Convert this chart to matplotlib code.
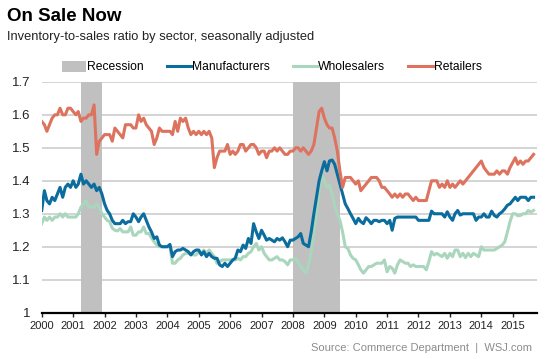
import matplotlib
matplotlib.use("Agg")
import matplotlib.pyplot as plt
from matplotlib.patches import Patch
from matplotlib.lines import Line2D
import pandas as pd

plt.rcParams['font.family'] = ['Liberation Sans', 'DejaVu Sans']

# monthly inventory-to-sales ratios, Jan 2000 onwards
start = '2000-01-01'

manufacturers = [
    1.31, 1.37, 1.34, 1.33, 1.35, 1.34, 1.36, 1.38, 1.35, 1.38, 1.39, 1.38,
    1.40, 1.38, 1.39, 1.42, 1.39, 1.40, 1.39, 1.38, 1.39, 1.37, 1.38, 1.36,
    1.33, 1.31, 1.30, 1.28, 1.27, 1.27, 1.27, 1.28, 1.27, 1.276, 1.276, 1.30,
    1.29, 1.276, 1.29, 1.30, 1.28, 1.26, 1.245, 1.225, 1.23, 1.205, 1.20, 1.20,
    1.20, 1.207, 1.17, 1.185, 1.19, 1.19, 1.195, 1.19, 1.185, 1.175, 1.185, 1.19,
    1.19, 1.175, 1.185, 1.17, 1.18, 1.17, 1.165, 1.165, 1.145, 1.14, 1.15, 1.14,
    1.15, 1.16, 1.165, 1.19, 1.185, 1.205, 1.195, 1.225, 1.21, 1.27, 1.245, 1.225,
    1.25, 1.235, 1.22, 1.225, 1.22, 1.215, 1.225, 1.22, 1.227, 1.215, 1.20, 1.22,
    1.22, 1.225, 1.23, 1.24, 1.21, 1.205, 1.20, 1.245, 1.30, 1.35, 1.40, 1.43,
    1.458, 1.43, 1.46, 1.463, 1.45, 1.42, 1.39, 1.36, 1.33, 1.316, 1.30, 1.286,
    1.27, 1.286, 1.276, 1.27, 1.288, 1.28, 1.27, 1.28, 1.28, 1.276, 1.28, 1.28,
    1.27, 1.28, 1.25, 1.286, 1.29, 1.29, 1.29, 1.29, 1.29, 1.29, 1.29, 1.29,
    1.28, 1.28, 1.28, 1.28, 1.28, 1.308, 1.30, 1.30, 1.30, 1.30, 1.29, 1.306,
    1.29, 1.28, 1.30, 1.31, 1.296, 1.30, 1.30, 1.30, 1.30, 1.30, 1.28, 1.29,
    1.29, 1.30, 1.29, 1.29, 1.308, 1.295, 1.29, 1.30, 1.306, 1.315, 1.326, 1.33,
    1.34, 1.35, 1.34, 1.35, 1.35, 1.35, 1.34, 1.35, 1.35,
]

wholesalers = [
    1.27, 1.29, 1.28, 1.29, 1.28, 1.29, 1.29, 1.30, 1.29, 1.30, 1.29, 1.29,
    1.29, 1.29, 1.30, 1.32, 1.33, 1.34, 1.32, 1.32, 1.32, 1.33, 1.32, 1.30,
    1.29, 1.28, 1.276, 1.256, 1.25, 1.248, 1.255, 1.245, 1.245, 1.245, 1.26, 1.235,
    1.235, 1.245, 1.245, 1.26, 1.24, 1.24, 1.227, 1.215, 1.205, 1.20, 1.20, 1.20,
    1.20, 1.20, 1.15, 1.15, 1.16, 1.165, 1.175, 1.18, 1.18, 1.18, 1.175, 1.175,
    1.185, 1.18, 1.19, 1.18, 1.19, 1.18, 1.17, 1.15, 1.155, 1.16, 1.16, 1.16,
    1.16, 1.16, 1.16, 1.165, 1.16, 1.17, 1.17, 1.18, 1.185, 1.20, 1.21, 1.19,
    1.20, 1.18, 1.17, 1.16, 1.16, 1.165, 1.17, 1.16, 1.16, 1.155, 1.145, 1.16,
    1.16, 1.165, 1.155, 1.14, 1.13, 1.12, 1.145, 1.185, 1.24, 1.30, 1.367, 1.417,
    1.40, 1.38, 1.387, 1.36, 1.326, 1.30, 1.28, 1.245, 1.20, 1.195, 1.175, 1.165,
    1.16, 1.145, 1.13, 1.12, 1.13, 1.14, 1.14, 1.145, 1.15, 1.15, 1.15, 1.16,
    1.124, 1.14, 1.135, 1.12, 1.145, 1.16, 1.155, 1.15, 1.15, 1.14, 1.145, 1.14,
    1.14, 1.14, 1.14, 1.13, 1.155, 1.185, 1.175, 1.18, 1.175, 1.17, 1.18, 1.165,
    1.18, 1.17, 1.19, 1.19, 1.17, 1.18, 1.167, 1.18, 1.17, 1.18, 1.175, 1.17,
    1.20, 1.19, 1.19, 1.19, 1.19, 1.19, 1.195, 1.20, 1.205, 1.215, 1.245, 1.276,
    1.30, 1.30, 1.294, 1.295, 1.30, 1.30, 1.31, 1.305, 1.31,
]

retailers = [
    1.58, 1.57, 1.55, 1.57, 1.59, 1.60, 1.60, 1.62, 1.60, 1.60, 1.62, 1.62,
    1.61, 1.60, 1.61, 1.58, 1.59, 1.59, 1.60, 1.60, 1.63, 1.48, 1.52, 1.53,
    1.54, 1.54, 1.54, 1.52, 1.56, 1.55, 1.54, 1.53, 1.57, 1.57, 1.57, 1.56,
    1.56, 1.60, 1.58, 1.59, 1.57, 1.56, 1.55, 1.51, 1.53, 1.56, 1.55, 1.55,
    1.55, 1.55, 1.54, 1.58, 1.55, 1.59, 1.58, 1.59, 1.56, 1.54, 1.55, 1.54,
    1.55, 1.54, 1.55, 1.54, 1.55, 1.53, 1.44, 1.47, 1.49, 1.49, 1.49, 1.51,
    1.48, 1.49, 1.48, 1.49, 1.51, 1.51, 1.49, 1.50, 1.51, 1.51, 1.50, 1.48,
    1.49, 1.49, 1.47, 1.49, 1.49, 1.50, 1.49, 1.50, 1.49, 1.48, 1.48, 1.49,
    1.49, 1.50, 1.50, 1.49, 1.50, 1.49, 1.48, 1.49, 1.51, 1.56, 1.61, 1.62,
    1.59, 1.57, 1.56, 1.56, 1.53, 1.49, 1.43, 1.38, 1.41, 1.41, 1.41, 1.40,
    1.39, 1.40, 1.37, 1.38, 1.39, 1.40, 1.41, 1.41, 1.41, 1.40, 1.38, 1.38,
    1.37, 1.36, 1.35, 1.36, 1.35, 1.36, 1.35, 1.36, 1.36, 1.35, 1.34, 1.35,
    1.34, 1.34, 1.34, 1.34, 1.37, 1.40, 1.40, 1.40, 1.38, 1.39, 1.38, 1.40,
    1.38, 1.39, 1.38, 1.39, 1.40, 1.39, 1.40, 1.41, 1.42, 1.43, 1.44, 1.45,
    1.46, 1.44, 1.43, 1.42, 1.42, 1.42, 1.43, 1.42, 1.43, 1.43, 1.42, 1.44,
    1.455, 1.47, 1.45, 1.46, 1.45, 1.46, 1.46, 1.47, 1.48,
]

recessions = [('2001-04-01', '2001-12-01'), ('2008-01-01', '2009-07-01')]
years = list(range(2000, 2016))
yticks = [1.0, 1.1, 1.2, 1.3, 1.4, 1.5, 1.6, 1.7]
ylabels = ['1', '1.1', '1.2', '1.3', '1.4', '1.5', '1.6', '1.7']

c_man = '#0b6c9e'
c_whl = '#a9d6bd'
c_ret = '#dd735e'
c_rec = '#c0c0c0'

dates = pd.date_range(start, periods=len(manufacturers), freq='MS')

fig = plt.figure(figsize=(5.49, 3.59), dpi=100)
ax = fig.add_axes([0.076, 0.129, 0.902, 0.643])

for a, b in recessions:
    ax.axvspan(pd.Timestamp(a), pd.Timestamp(b), color=c_rec, lw=0, zorder=1)

for y in yticks[1:]:
    ax.axhline(y, color='#c9c9c9', lw=1.1, zorder=0.5)

ax.plot(dates, wholesalers, color=c_whl, lw=2.2, zorder=3)
ax.plot(dates, manufacturers, color=c_man, lw=2.2, zorder=4)
ax.plot(dates, retailers, color=c_ret, lw=2.2, zorder=5)

ax.set_ylim(1.0, 1.7)
ax.set_xlim(pd.Timestamp('2000-01-01'), pd.Timestamp('2015-10-10'))
ax.set_yticks(yticks)
ax.set_yticklabels(ylabels)
ax.set_xticks([pd.Timestamp(f'{y}-01-01') for y in years])
ax.set_xticklabels([str(y) for y in years])
ax.tick_params(axis='y', length=0, pad=8, labelsize=9.5, colors='#222222')
ax.tick_params(axis='x', length=3, width=1, pad=3, labelsize=8, colors='#222222')

for s in ['top', 'right', 'left']:
    ax.spines[s].set_visible(False)
ax.spines['bottom'].set_linewidth(1.6)
ax.spines['bottom'].set_color('black')
ax.spines['bottom'].set_zorder(6)

handles = [Patch(facecolor=c_rec, edgecolor='none'),
           Line2D([], [], color=c_man, lw=2.2),
           Line2D([], [], color=c_whl, lw=2.2),
           Line2D([], [], color=c_ret, lw=2.2)]
labels = ['Recession', 'Manufacturers', 'Wholesalers', 'Retailers']
fig.legend(handles, labels, loc='center', bbox_to_anchor=(0.495, 0.813), ncol=4,
           frameon=False, fontsize=8.7, handlelength=2.0, handletextpad=0.1,
           columnspacing=1.9, handleheight=1.0)

fig.text(0.012, 0.953, 'On Sale Now', fontsize=13.5, fontweight='bold', va='center')
fig.text(0.012, 0.897, 'Inventory-to-sales ratio by sector, seasonally adjusted',
         fontsize=9.3, va='center', color='#222222')
fig.text(0.969, 0.031, 'Source: Commerce Department  |  WSJ.com', fontsize=8,
         ha='right', va='center', color='#8c8c8c')

fig.savefig('out.png', dpi=100)
